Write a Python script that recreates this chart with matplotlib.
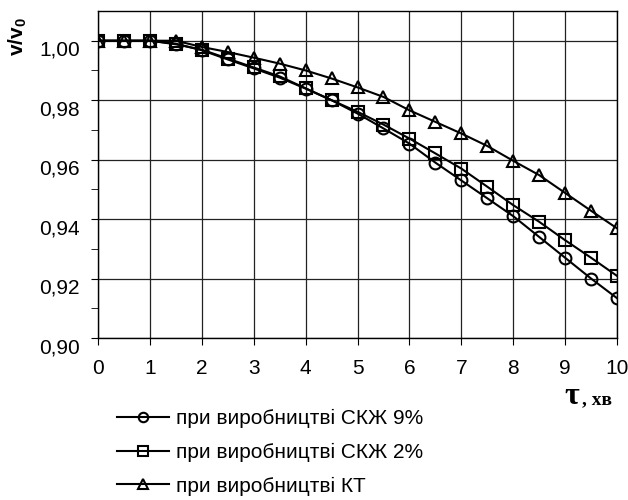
import numpy as np
import matplotlib
matplotlib.use("Agg")
import matplotlib.pyplot as plt

plt.rcParams['font.family'] = ['Liberation Sans', 'DejaVu Sans']
plt.rcParams['mathtext.fontset'] = 'custom'
plt.rcParams['mathtext.bf'] = 'Liberation Sans:bold'
plt.rcParams['mathtext.rm'] = 'Liberation Sans'

# time, min
tau = [0, 0.5, 1, 1.5, 2, 2.5, 3, 3.5, 4, 4.5, 5, 5.5, 6, 6.5, 7, 7.5, 8, 8.5, 9, 9.5, 10]

skzh9 = [1.000, 1.000, 1.000, 0.9990, 0.9968, 0.9937, 0.9907, 0.9876, 0.9839, 0.9800,
         0.9755, 0.9705, 0.9654, 0.9590, 0.9530, 0.9470, 0.9410, 0.9340, 0.9270, 0.9200, 0.9134]
skzh2 = [1.000, 1.000, 1.000, 0.9988, 0.9970, 0.9940, 0.9910, 0.9880, 0.9840, 0.9800,
         0.9761, 0.9718, 0.9671, 0.9621, 0.9570, 0.9509, 0.9447, 0.9391, 0.9329, 0.9270, 0.9209]
kt = [1.000, 1.000, 1.000, 1.0000, 0.9979, 0.9962, 0.9943, 0.9923, 0.9900, 0.9873,
      0.9843, 0.9811, 0.9766, 0.9727, 0.9688, 0.9646, 0.9596, 0.9548, 0.9488, 0.9428, 0.9369]

labels = ["при виробництві СКЖ 9%", "при виробництві СКЖ 2%", "при виробництві КТ"]

x_ticks = list(range(0, 11))
y_ticks = [0.90, 0.92, 0.94, 0.96, 0.98, 1.00]
y_tick_labels = ["0,90", "0,92", "0,94", "0,96", "0,98", "1,00"]

fig = plt.figure(figsize=(6.28, 5.0), dpi=100)
ax = fig.add_axes([98 / 628, 1 - 338 / 500, 519 / 628, 327 / 500])

style = dict(color='black', lw=1.5, ms=8.5, mfc='none', mew=1.5)
ax.plot(tau, skzh9, marker='o', label=labels[0], **style)
ax.plot(tau, skzh2, marker='s', label=labels[1], **style)
ax.plot(tau, kt, marker='^', label=labels[2], **style)

ax.set_xlim(0, 10)
ax.set_ylim(0.90, 1.01)
ax.set_xticks(x_ticks)
ax.set_yticks(y_ticks)
ax.set_yticklabels(y_tick_labels)
ax.set_yticks(np.arange(0.91, 1.01, 0.02), minor=True)

ax.grid(True, which='major', color='#222222', lw=0.9)
ax.set_axisbelow(True)
for s in ax.spines.values():
    s.set_color('black')
    s.set_linewidth(1.0)

ax.tick_params(axis='both', which='both', direction='out', color='black', labelsize=15)
ax.tick_params(axis='x', which='major', length=5, pad=10)
ax.tick_params(axis='y', which='major', length=5, pad=8)
ax.tick_params(axis='y', which='minor', length=5)
for t in ax.get_yticklabels():
    t.set_va('top')

fig.text(18 / 628, 1 - 37 / 500, r'$\mathbf{v/v_0}$', rotation=90, ha='center', va='center', fontsize=15)

fig.text(564 / 628, 1 - 397 / 500, 'τ', family='Liberation Serif', fontweight='bold',
         fontsize=23, ha='left', va='center')
fig.text(582 / 628, 1 - 400 / 500, ', хв', family='Liberation Serif', fontweight='bold',
         fontsize=14, ha='left', va='center')

fig.legend(loc='upper left', bbox_to_anchor=(109 / 628, 1 - 401 / 500), frameon=False,
           fontsize=15, handlelength=2.5, handletextpad=0.3, labelspacing=0.7,
           markerscale=0.8, borderaxespad=0)

fig.savefig('out.png', dpi=100)
